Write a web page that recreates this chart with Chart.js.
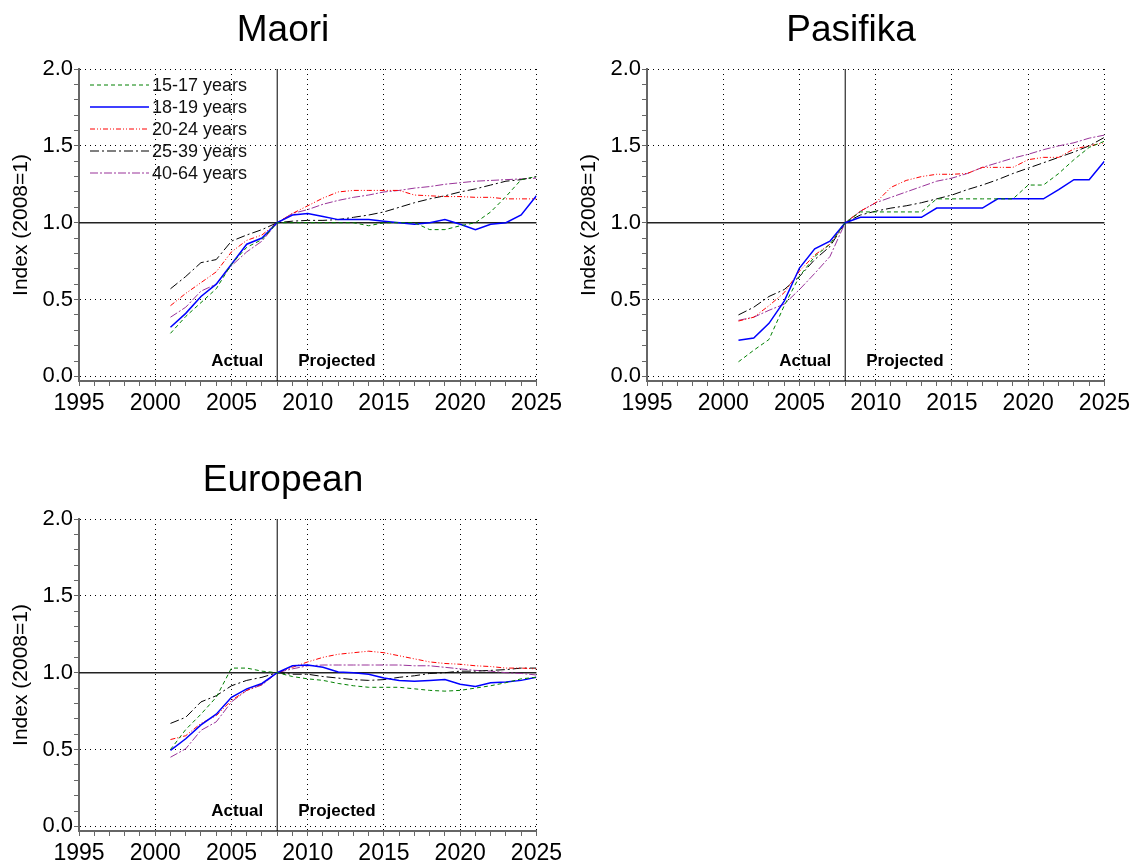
<!DOCTYPE html>
<html>
<head>
<meta charset="utf-8">
<script src="https://cdn.jsdelivr.net/npm/chart.js@4"></script>
<style>
  html, body { margin: 0; padding: 0; background: #fff; overflow: hidden; }
  canvas { position: absolute; }
</style>
</head>
<body>
<canvas id="maori" width="566" height="430" style="left:0;top:0"></canvas>
<canvas id="pasifika" width="566" height="430" style="left:568px;top:0"></canvas>
<canvas id="european" width="566" height="430" style="left:0;top:450px"></canvas>
<script>
// years 2001..2025, index 2008 = 1
const years = [2001, 2002, 2003, 2004, 2005, 2006, 2007, 2008, 2009, 2010, 2011, 2012, 2013,
  2014, 2015, 2016, 2017, 2018, 2019, 2020, 2021, 2022, 2023, 2024, 2025];
const ageGroups = ['15-17 years', '18-19 years', '20-24 years', '25-39 years', '40-64 years'];
const xTicks = [1995, 2000, 2005, 2010, 2015, 2020, 2025];
const yTicks = [0.0, 0.5, 1.0, 1.5, 2.0];
const baseYear = 2008;

const maori15_17 = [0.28, 0.39, 0.48, 0.57, 0.73, 0.84, 0.89, 1.00, 1.00, 1.00, 1.00, 1.00, 1.00,
  0.98, 1.00, 1.00, 1.00, 0.955, 0.955, 0.98, 1.00, 1.07, 1.17, 1.28, 1.30];
const maori18_19 = [0.32, 0.41, 0.52, 0.60, 0.73, 0.86, 0.90, 1.00, 1.05, 1.06, 1.04, 1.02, 1.02,
  1.02, 1.01, 1.00, 0.99, 1.00, 1.02, 0.99, 0.955, 0.99, 1.00, 1.05, 1.175];
const maori20_24 = [0.46, 0.54, 0.61, 0.68, 0.81, 0.885, 0.92, 1.00, 1.06, 1.11, 1.16, 1.20, 1.21,
  1.21, 1.21, 1.21, 1.18, 1.175, 1.17, 1.17, 1.165, 1.165, 1.155, 1.155, 1.155];
const maori25_39 = [0.57, 0.65, 0.74, 0.76, 0.88, 0.92, 0.955, 1.00, 1.01, 1.015, 1.015, 1.02, 1.035,
  1.05, 1.07, 1.10, 1.13, 1.155, 1.175, 1.20, 1.22, 1.245, 1.27, 1.28, 1.30];
const maori40_64 = [0.385, 0.45, 0.555, 0.60, 0.72, 0.81, 0.88, 1.00, 1.06, 1.085, 1.12, 1.145, 1.165,
  1.18, 1.20, 1.21, 1.225, 1.235, 1.25, 1.26, 1.27, 1.275, 1.28, 1.285, 1.29];

const pasifika15_17 = [0.095, 0.17, 0.24, 0.46, 0.65, 0.78, 0.86, 1.00, 1.07, 1.07, 1.07, 1.07, 1.07,
  1.155, 1.155, 1.155, 1.155, 1.155, 1.155, 1.245, 1.245, 1.32, 1.41, 1.49, 1.53];
const pasifika18_19 = [0.235, 0.25, 0.345, 0.49, 0.705, 0.83, 0.88, 1.00, 1.035, 1.035, 1.035, 1.035, 1.035,
  1.095, 1.095, 1.095, 1.095, 1.155, 1.155, 1.155, 1.155, 1.215, 1.28, 1.28, 1.40];
const pasifika20_24 = [0.36, 0.385, 0.46, 0.545, 0.685, 0.79, 0.86, 1.00, 1.075, 1.13, 1.23, 1.275, 1.30,
  1.315, 1.315, 1.32, 1.36, 1.36, 1.36, 1.41, 1.425, 1.425, 1.48, 1.50, 1.52];
const pasifika25_39 = [0.40, 0.45, 0.52, 0.565, 0.65, 0.76, 0.845, 1.00, 1.05, 1.075, 1.095, 1.11, 1.13,
  1.155, 1.18, 1.215, 1.245, 1.28, 1.32, 1.355, 1.39, 1.425, 1.46, 1.50, 1.555];
const pasifika40_64 = [0.365, 0.385, 0.43, 0.47, 0.565, 0.67, 0.78, 1.00, 1.075, 1.13, 1.165, 1.20, 1.235,
  1.27, 1.29, 1.32, 1.36, 1.39, 1.42, 1.445, 1.475, 1.50, 1.52, 1.55, 1.57];

const european15_17 = [0.50, 0.63, 0.73, 0.84, 1.03, 1.03, 1.01, 1.00, 0.975, 0.96, 0.95, 0.93, 0.915,
  0.905, 0.905, 0.905, 0.895, 0.885, 0.88, 0.885, 0.90, 0.915, 0.935, 0.96, 0.97];
const european18_19 = [0.495, 0.57, 0.66, 0.73, 0.84, 0.895, 0.93, 1.00, 1.045, 1.05, 1.035, 1.005, 1.00,
  0.99, 0.965, 0.95, 0.945, 0.95, 0.955, 0.925, 0.91, 0.935, 0.94, 0.95, 0.97];
const european20_24 = [0.565, 0.59, 0.67, 0.72, 0.82, 0.885, 0.925, 1.00, 1.035, 1.07, 1.10, 1.12, 1.13,
  1.14, 1.13, 1.11, 1.09, 1.07, 1.06, 1.055, 1.045, 1.04, 1.03, 1.03, 1.025];
const european25_39 = [0.67, 0.71, 0.81, 0.85, 0.915, 0.95, 0.97, 1.00, 0.99, 0.99, 0.975, 0.965, 0.955,
  0.95, 0.955, 0.97, 0.98, 0.995, 1.00, 1.01, 1.01, 1.015, 1.02, 1.03, 1.03];
const european40_64 = [0.45, 0.505, 0.625, 0.68, 0.81, 0.885, 0.92, 1.00, 1.025, 1.045, 1.05, 1.05, 1.05,
  1.05, 1.05, 1.05, 1.045, 1.045, 1.035, 1.025, 1.015, 1.01, 1.00, 0.995, 0.985];

// line styles per age group
const colors = ['#008000', '#0000ff', '#ff0000', '#000000', '#993399'];
const dashes = [[4, 3], [], [5, 2, 1, 2, 1, 2], [9, 3, 2, 3], [8, 2, 2, 2]];
const widths = [1, 1.5, 1, 1, 1];

const FONT = "'Liberation Sans', Arial, Helvetica, sans-serif";
Chart.defaults.font.family = FONT;
Chart.defaults.color = '#000';

// panel title, centred on the whole canvas (not only the plot)
const panelTitle = {
  id: 'panelTitle',
  afterDraw(chart, args, opts) {
    const { ctx } = chart;
    ctx.save();
    ctx.font = '37px ' + FONT;
    ctx.fillStyle = '#000';
    ctx.textAlign = 'center';
    ctx.textBaseline = 'alphabetic';
    ctx.fillText(opts.text, chart.width / 2, 41);
    ctx.restore();
  }
};

const refLines = {
  id: 'refLines',
  beforeDatasetsDraw(chart) {
    const { ctx, chartArea, scales: { x, y } } = chart;
    const x08 = x.getPixelForValue(baseYear);
    const y1 = y.getPixelForValue(1);
    ctx.save();
    ctx.strokeStyle = '#222';
    ctx.lineWidth = 1.5;
    ctx.beginPath();
    ctx.moveTo(chartArea.left, y1);
    ctx.lineTo(chartArea.right, y1);
    ctx.stroke();
    ctx.lineWidth = 1;
    ctx.strokeStyle = '#000';
    ctx.beginPath();
    ctx.moveTo(x08, chartArea.top);
    ctx.lineTo(x08, chartArea.bottom);
    ctx.stroke();

    ctx.font = 'bold 17px ' + FONT;
    ctx.fillStyle = '#000';
    ctx.textBaseline = 'alphabetic';
    const ty = y.getPixelForValue(0.07);
    ctx.textAlign = 'right';
    ctx.fillText('Actual', x08 - 14, ty);
    ctx.textAlign = 'left';
    ctx.fillText('Projected', x08 + 21, ty);
    ctx.restore();
  }
};

// legend drawn inside the plot (Maori panel only)
const innerLegend = {
  id: 'innerLegend',
  afterDatasetsDraw(chart) {
    const { ctx, chartArea } = chart;
    ctx.save();
    ctx.font = '18px ' + FONT;
    ctx.textBaseline = 'middle';
    ctx.textAlign = 'left';
    chart.data.datasets.forEach((ds, i) => {
      const ly = chartArea.top + 16 + i * 22;
      ctx.strokeStyle = ds.borderColor;
      ctx.lineWidth = ds.borderWidth;
      ctx.setLineDash(ds.borderDash);
      ctx.beginPath();
      ctx.moveTo(chartArea.left + 11, ly);
      ctx.lineTo(chartArea.left + 70, ly);
      ctx.stroke();
      ctx.setLineDash([]);
      ctx.fillStyle = '#111';
      ctx.fillText(ds.label, chartArea.left + 73, ly + 1);
    });
    ctx.restore();
  }
};

function makeChart(id, title, series, withLegend) {
  const ctx = document.getElementById(id).getContext('2d');
  const datasets = series.map((values, i) => ({
    label: ageGroups[i],
    data: years.map((yr, k) => ({ x: yr, y: values[k] })),
    borderColor: colors[i],
    borderDash: dashes[i],
    borderWidth: widths[i],
    pointRadius: 0,
    tension: 0,
    fill: false
  }));

  return new Chart(ctx, {
    type: 'line',
    data: { datasets },
    plugins: withLegend ? [panelTitle, refLines, innerLegend] : [panelTitle, refLines],
    options: {
      responsive: false,
      animation: false,
      events: [],
      layout: { padding: { left: 0, right: 28, top: 69, bottom: 0 } },
      plugins: {
        legend: { display: false },
        tooltip: { enabled: false },
        title: { display: false },
        panelTitle: { text: title }
      },
      scales: {
        x: {
          type: 'linear',
          min: 1995,
          max: 2025,
          afterBuildTicks: (scale) => {
            const t = [];
            for (let v = 1995; v <= 2025; v++) t.push({ value: v });
            scale.ticks = t;
          },
          afterFit: (scale) => { scale.height = 49; },
          ticks: {
            autoSkip: false,
            maxRotation: 0,
            padding: 4,
            font: { size: 23 },
            callback: (v) => (xTicks.includes(v) ? String(v) : '')
          },
          grid: {
            color: (c) => (c.tick && xTicks.includes(c.tick.value) ? '#000' : 'rgba(0,0,0,0)'),
            tickColor: '#666',
            tickLength: 5,
            lineWidth: 1
          },
          border: { color: '#666', width: 2, dash: [1, 4] }
        },
        y: {
          min: -0.03,
          max: 2.0,
          afterBuildTicks: (scale) => {
            const t = [];
            for (let k = 0; k <= 20; k++) t.push({ value: k / 10 });
            scale.ticks = t;
          },
          afterFit: (scale) => { scale.width = 79; },
          ticks: {
            autoSkip: false,
            padding: 1,
            font: { size: 22 },
            callback: (v) => {
              const hit = yTicks.find((t) => Math.abs(t - v) < 1e-6);
              return hit === undefined ? '' : hit.toFixed(1);
            }
          },
          grid: {
            color: (c) => (c.tick && yTicks.some((t) => Math.abs(t - c.tick.value) < 1e-6) ? '#000' : 'rgba(0,0,0,0)'),
            tickColor: '#666',
            tickLength: 5,
            lineWidth: 1
          },
          border: { color: '#666', width: 2, dash: [1, 4] },
          title: {
            display: true,
            text: 'Index (2008=1)',
            font: { size: 21 },
            padding: { top: 9, bottom: 0 }
          }
        }
      }
    }
  });
}

makeChart('maori', 'Maori', [maori15_17, maori18_19, maori20_24, maori25_39, maori40_64], true);
makeChart('pasifika', 'Pasifika', [pasifika15_17, pasifika18_19, pasifika20_24, pasifika25_39, pasifika40_64], false);
makeChart('european', 'European', [european15_17, european18_19, european20_24, european25_39, european40_64], false);
</script>
</body>
</html>
